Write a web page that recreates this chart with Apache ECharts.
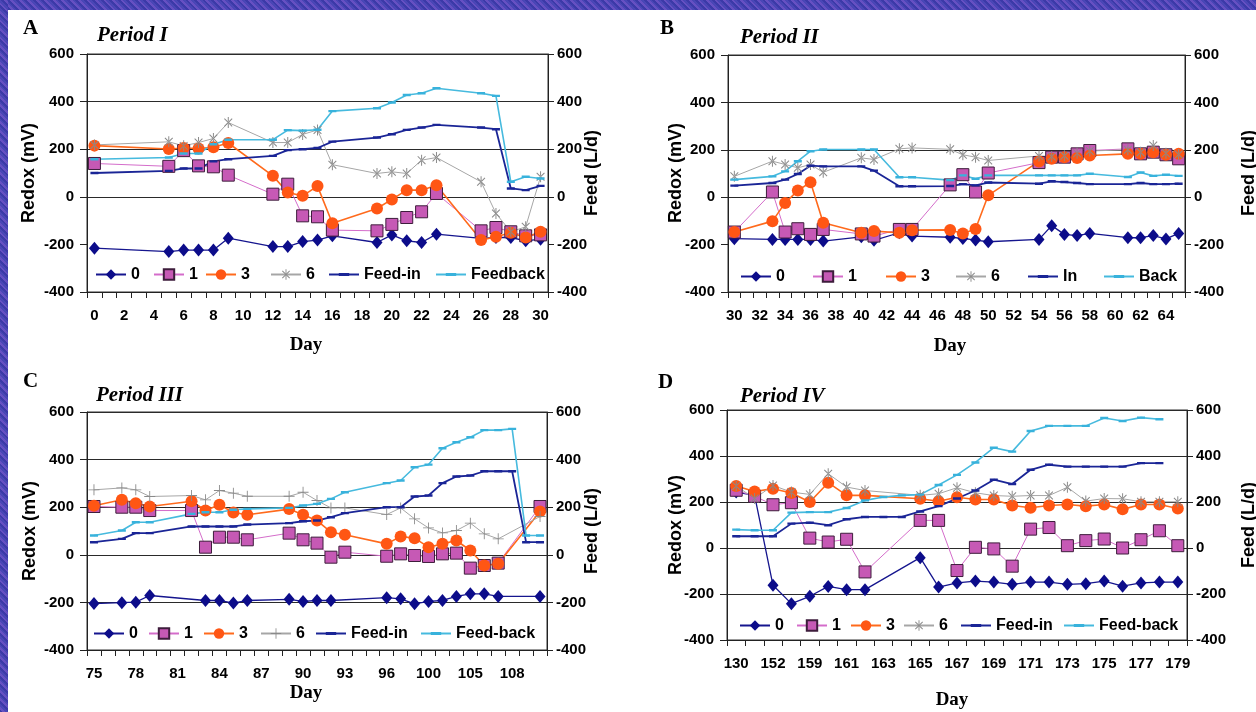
<!DOCTYPE html>
<html>
<head>
<meta charset="utf-8">
<script src="https://cdn.jsdelivr.net/npm/echarts@6/dist/echarts.min.js"></script>
<style>
html,body{margin:0;padding:0;width:1256px;height:712px;overflow:hidden;background:#fff;}
.band{position:absolute;background:repeating-linear-gradient(45deg,#3c3aa8 0px,#3c3aa8 2px,#6650c2 2px,#6650c2 4px,#4a46b6 4px,#4a46b6 6px);}
#chart{position:absolute;left:0;top:0;width:1256px;height:712px;}
</style>
</head>
<body>
<div class="band" style="left:0;top:0;width:1256px;height:10px;"></div>
<div class="band" style="left:0;top:0;width:8px;height:712px;"></div>
<div id="chart"></div>
<script>
// ---------- Data ----------
const catA = ['0','1','2','3','4','5','6','7','8','9','10','11','12','13','14','15','16','17','18','19','20','21','22','23','24','25','26','27','28','29','30'];
const daysA = ['0','5','6','7','8','9','12','13','14','15','16','19','20','21','22','23','26','27','28','29','30'];
const A0 = [-216,-230,-224,-224,-224,-174,-209,-209,-188,-182,-164,-192,-160,-185,-192,-157,-175,-171,-171,-185,-178];
const A1 = [140,128,194,130,126,91,11,53,-80,-84,-140,-143,-116,-87,-63,14,-143,-129,-147,-164,-160];
const A3 = [215,201,205,203,208,226,88,18,4,45,-111,-49,-11,28,28,49,-182,-168,-151,-171,-147];
const A6 = [218,231,214,228,245,312,228,228,262,281,135,98,105,98,154,165,63,-70,-147,-126,84];
const AIn = [100,109,119,119,149,158,172,196,200,205,232,249,263,281,291,302,291,284,35,28,46];
const ABack = [158,165,182,182,221,240,240,280,278,282,360,372,396,428,435,456,435,424,63,84,77];
const namesA = ['0','1','3','6','Feed-in','Feedback'];

const catB = ['30','31','32','33','34','35','36','37','38','39','40','41','42','43','44','45','46','47','48','49','50','51','52','53','54','55','56','57','58','59','60','61','62','63','64','65'];
const daysB = ['30','33','34','35','36','37','40','41','43','44','47','48','49','50','54','55','56','57','58','61','62','63','64','65'];
const B0 = [-175,-178,-178,-178,-178,-185,-167,-182,-150,-164,-169,-174,-181,-188,-178,-120,-157,-162,-153,-171,-171,-162,-176,-153];
const B1 = [-147,22,-147,-133,-157,-136,-155,-164,-136,-136,52,95,22,102,146,169,169,183,197,204,183,190,179,162];
const B3 = [-147,-101,-24,28,63,-108,-150,-143,-150,-139,-138,-153,-134,8,151,162,169,165,176,183,183,190,179,183];
const B6 = [88,152,138,124,138,105,166,159,204,208,202,179,169,155,174,172,175,185,195,200,190,218,185,180];
const BIn = [49,60,74,98,133,130,130,112,46,46,47,55,50,62,57,67,64,60,55,55,60,55,55,57];
const BBack = [74,88,109,152,194,201,201,201,84,84,72,92,78,92,92,92,92,92,99,85,104,90,95,90];
const namesB = ['0','1','3','6','In','Back'];

const catC = ['75','76','77','78','79','80','81','82','83','84','85','86','87','88','89','90','91','92','93','94','95','96','97','98','100','101','103','105','106','107','108','109','110'];
const daysC = ['75','77','78','79','82','83','84','85','86','89','90','91','92','93','96','97','98','100','101','103','105','106','107','108','109','110'];
const C0 = [-205,-201,-199,-171,null,-192,-192,-203,-192,-187,-196,-192,-192,null,-180,-185,-206,-196,-192,-175,-164,-164,-175,null,null,-175];
const C1 = [203,200,200,186,186,32,74,74,63,91,63,49,-10,11,-6,4,-3,-7,4,7,-56,-45,-35,null,null,203];
const C3 = [206,231,217,203,225,186,210,178,168,192,168,144,95,84,46,77,70,32,46,60,18,-45,-38,null,null,182];
const C6 = [273,281,273,245,249,231,270,259,246,246,263,228,197,197,169,197,151,113,92,102,133,88,67,null,null,161];
const CIn = [53,67,91,91,119,119,119,119,127,133,141,144,158,175,200,200,245,249,301,329,333,351,351,351,53,53];
const CBack = [81,102,137,137,172,179,179,189,193,197,207,214,235,263,301,312,368,379,448,473,494,524,524,529,81,81];
const namesC = ['0','1','3','6','Feed-in','Feed-back'];

const catD = ['130','145','152','156','159','160','161','162','163','164','165','166','167','168','169','170','171','172','173','174','175','176','177','178','179'];
const daysD = catD;
const D0 = [243,229,-162,-242,-210,-167,-181,-181,null,null,-42,-170,-152,-144,-148,-158,-148,-148,-158,-155,-144,-166,-152,-148,-148];
const D1 = [251,225,188,197,43,26,38,-104,null,null,120,120,-98,3,-4,-79,82,89,10,32,39,0,36,75,10];
const D3 = [270,246,258,239,200,284,229,229,null,null,214,203,221,211,211,185,175,185,189,182,189,168,189,189,172];
const D6 = [270,215,272,243,233,323,265,250,null,null,229,236,262,240,228,225,228,228,264,204,215,214,201,201,201];
const DIn = [51,51,51,106,110,99,125,135,135,135,159,182,215,250,297,278,340,362,354,354,354,354,369,369,null];
const DBack = [80,77,77,154,156,156,174,207,222,229,232,274,318,372,436,419,509,531,531,531,565,552,567,560,null];
const namesD = ['0','1','3','6','Feed-in','Feed-back'];

const yTicks = [-400, 600, 200]; // min, max, step

// ---------- Styles ----------
const SANS = 'Liberation Sans, Arial, sans-serif';
const SERIF = 'Liberation Serif, Times New Roman, serif';
const STAR = 'path://M-0.9,-10L0.9,-10L0.9,10L-0.9,10Z M-7.71,-6.43L6.43,7.71L7.71,6.43L-6.43,-7.71Z M-6.43,7.71L7.71,-6.43L6.43,-7.71L-7.71,6.43Z M-10,0L-10,0.01L-10,0Z M10,0L10,0.01L10,0Z';
const PLUS = 'path://M-0.8,-10L0.8,-10L0.8,10L-0.8,10Z M-10,-0.8L10,-0.8L10,0.8L-10,0.8Z';
const DASH = 'path://M-10,-3L10,-3L10,3L-10,3Z M0,-10L0.01,-10L0,-10Z M0,10L0.01,10L0,10Z';

const styles = [
  {symbol:'diamond', size:[11,13], color:'#0c0c8a', border:null, line:'#15158e', lw:1.3, right:false},
  {symbol:'rect', size:12, color:'#c659b5', border:'#3e1d3c', line:'#d46cca', lw:1, right:false},
  {symbol:'circle', size:12, color:'#ff5614', border:null, line:'#ff6a1c', lw:1.6, right:false},
  {symbol:STAR, size:11, color:'#8a8a8a', border:null, line:'#a6a6a6', lw:1, right:false},
  {symbol:DASH, size:8, color:'#1a2596', border:null, line:'#1a2596', lw:1.8, right:true},
  {symbol:DASH, size:8, color:'#38b2dc', border:null, line:'#46bade', lw:1.6, right:true}
];

const panels = [
  {key:'A', cats:catA, days:daysA, vals:[A0,A1,A3,A6,AIn,ABack], names:namesA, six:STAR,
   grid:{left:87, top:54, width:461, height:238}, li:1, neg200:false,
   legendRow:273, legendX:[95,153,205,270,328,435]},
  {key:'B', cats:catB, days:daysB, vals:[B0,B1,B3,B6,BIn,BBack], names:namesB, six:STAR,
   grid:{left:728, top:55, width:457, height:237}, li:1, neg200:false,
   legendRow:275, legendX:[740,812,885,955,1027,1103]},
  {key:'C', cats:catC, days:daysC, vals:[C0,C1,C3,C6,CIn,CBack], names:namesC, six:PLUS,
   grid:{left:87, top:412, width:460, height:238}, li:2, neg200:true,
   legendRow:632, legendX:[93,148,203,260,315,420]},
  {key:'D', cats:catD, days:daysD, vals:[D0,D1,D3,D6,DIn,DBack], names:namesD, six:STAR,
   grid:{left:727, top:410, width:460, height:230}, li:1, neg200:true,
   legendRow:624, legendX:[739,796,850,903,960,1063]}
];

const labelStyle = {color:'#000', fontSize:15, fontWeight:'bold', fontFamily:SANS};
const axisCol = '#222';

const option = {
  animation:false,
  backgroundColor:'transparent',
  grid:[], xAxis:[], yAxis:[], series:[], legend:[], graphic:[]
};

panels.forEach((p, g) => {
  option.grid.push(Object.assign({show:true, borderColor:'#333', borderWidth:1, backgroundColor:'transparent', containLabel:false, outerBoundsMode:'none'}, p.grid));
  option.xAxis.push({
    gridIndex:g, type:'category', data:p.cats, boundaryGap:true,
    axisLine:{show:true, onZero:false, lineStyle:{color:axisCol, width:1}},
    axisTick:{show:true, interval:0, length:6, alignWithLabel:false, lineStyle:{color:axisCol}},
    axisLabel:Object.assign({interval:p.li, margin:16, hideOverlap:false}, labelStyle),
    splitLine:{show:false}
  });
  const gc = '#2a2a2a';
  const splitColors = p.neg200 ? ['rgba(0,0,0,0)', gc, gc, gc, gc, gc] : ['rgba(0,0,0,0)', 'rgba(0,0,0,0)', gc, gc, gc, gc];
  option.yAxis.push({
    gridIndex:g, type:'value', position:'left', min:yTicks[0], max:yTicks[1], interval:yTicks[2],
    axisLine:{show:true, lineStyle:{color:axisCol, width:1}},
    axisTick:{show:true, length:7, lineStyle:{color:axisCol}},
    axisLabel:Object.assign({margin:13}, labelStyle),
    splitLine:{show:true, lineStyle:{color:splitColors, width:1}}
  });
  option.yAxis.push({
    gridIndex:g, type:'value', position:'right', min:yTicks[0], max:yTicks[1], interval:yTicks[2],
    axisLine:{show:true, lineStyle:{color:axisCol, width:1}},
    axisTick:{show:true, length:6, lineStyle:{color:axisCol}},
    axisLabel:Object.assign({margin:9}, labelStyle),
    splitLine:{show:false}
  });
  p.vals.forEach((vals, s) => {
    const st = styles[s];
    const name = p.key + '|' + p.names[s];
    const data = p.days.map((d, i) => [p.cats.indexOf(String(d)), vals[i]]).filter(pt => pt[1] !== null && pt[1] !== undefined);
    const itemStyle = {color:st.color, opacity:1};
    if (st.border) { itemStyle.borderColor = st.border; itemStyle.borderWidth = 1; } else { itemStyle.borderWidth = 0; }
    option.series.push({
      name:name, type:'line', xAxisIndex:g, yAxisIndex:g*2 + (st.right ? 1 : 0),
      data:data, symbol: s === 3 ? p.six : st.symbol, symbolSize:st.size, showSymbol:true, showAllSymbol:true,
      connectNulls:true, smooth:false, clip:false,
      lineStyle:{color:st.line, width:st.lw},
      itemStyle:itemStyle,
      emphasis:{disabled:true}
    });
    option.legend.push({
      show:true, left:p.legendX[s], top:p.legendRow - 6.5, padding:0, itemWidth:30, itemHeight:13, itemGap:0,
      selectedMode:false, data:[name], formatter:(n) => n.split('|')[1],
      textStyle:{color:'#000', fontSize:16, fontWeight:'bold', fontFamily:SANS}
    });
  });
});

// ---------- Text ----------
const letters = [['A',23,35],['B',660,35],['C',23,388],['D',658,389]];
const periods = [['Period I',97,42],['Period II',740,44],['Period III',96,402],['Period IV',740,403]];
const days = [[306,345],[950,346],[306,693],[952,700]];
const leftTitles = [[29,173],[676,173],[30,531],[676,525]];
const rightTitles = [[592,173],[1249,173],[592,531],[1249,525]];

letters.forEach(l => option.graphic.push({type:'text', x:l[1], y:l[2] - 6.3, style:{text:l[0], font:'bold 21px ' + SERIF, fill:'#000', align:'left', verticalAlign:'middle'}}));
periods.forEach(l => option.graphic.push({type:'text', x:l[1], y:l[2] - 6.3, style:{text:l[0], font:'italic bold 21px ' + SERIF, fill:'#000', align:'left', verticalAlign:'middle'}}));
days.forEach(d => option.graphic.push({type:'text', x:d[0], y:d[1], style:{text:'Day', font:'bold 19px ' + SERIF, fill:'#000', align:'center', verticalAlign:'middle'}}));
leftTitles.forEach(t => option.graphic.push({type:'text', x:t[0], y:t[1], rotation:Math.PI/2, style:{text:'Redox (mV)', font:'bold 18px ' + SANS, fill:'#000', align:'center', verticalAlign:'middle'}}));
rightTitles.forEach(t => option.graphic.push({type:'text', x:t[0], y:t[1], rotation:Math.PI/2, style:{text:'Feed (L/d)', font:'bold 18px ' + SANS, fill:'#000', align:'center', verticalAlign:'middle'}}));

const chart = echarts.init(document.getElementById('chart'), null, {renderer:'canvas', width:1256, height:712});
chart.setOption(option);
</script>
</body>
</html>
